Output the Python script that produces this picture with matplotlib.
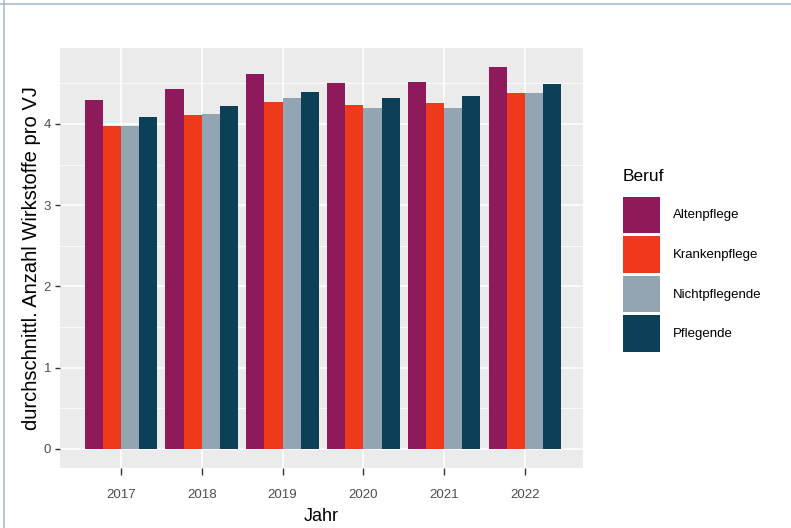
import numpy as np
import matplotlib
matplotlib.use('Agg')
import matplotlib.pyplot as plt
from matplotlib.patches import Patch
from matplotlib.lines import Line2D

plt.rcParams['font.family'] = ['Liberation Sans', 'DejaVu Sans']

jahre = ['2017', '2018', '2019', '2020', '2021', '2022']
berufe = ['Altenpflege', 'Krankenpflege', 'Nichtpflegende', 'Pflegende']
altenpflege = [4.30, 4.43, 4.61, 4.51, 4.52, 4.70]
krankenpflege = [3.97, 4.11, 4.27, 4.23, 4.26, 4.38]
nichtpflegende = [3.98, 4.12, 4.32, 4.20, 4.20, 4.38]
pflegende = [4.09, 4.22, 4.39, 4.32, 4.35, 4.49]
farben = ['#8E1A5C', '#EE3A1A', '#93A4B2', '#0C4058']

fig = plt.figure(figsize=(7.91, 5.28), dpi=100)
ax = fig.add_axes([60/791, 1-468/528, (583-60)/791, (468-48)/528])
ax.set_facecolor('#EBEBEB')

x = np.arange(len(jahre))
bw = 0.9 / 4
for i, werte in enumerate([altenpflege, krankenpflege, nichtpflegende, pflegende]):
    ax.bar(x - 0.45 + bw*(i+0.5), werte, width=bw, color=farben[i], zorder=3)

ax.set_xlim(-0.756, 5.72)
ax.set_ylim(-0.235, 4.935)
ax.set_xticks(x)
ax.set_xticklabels(jahre)
ax.set_yticks([0, 1, 2, 3, 4])
ax.set_yticks(np.arange(0.5, 4.6, 1), minor=True)
ax.grid(which='major', color='white', lw=1.1, zorder=0)
ax.grid(which='minor', axis='y', color='white', lw=0.55, zorder=0)
ax.tick_params(which='major', width=1, color='#333333',
               labelcolor='#4D4D4D', labelsize=9.5)
ax.tick_params(axis='x', length=5, pad=10)
ax.tick_params(axis='y', length=3.5, pad=3)
ax.tick_params(which='minor', length=0)
for s in ax.spines.values():
    s.set_visible(False)

ax.set_xlabel('Jahr', fontsize=13, labelpad=5)
ax.set_ylabel('durchschnittl. Anzahl Wirkstoffe pro VJ', fontsize=14.5, labelpad=2)

handles = [Patch(facecolor=c, edgecolor='none') for c in farben]
leg = fig.legend(handles, berufe, title='Beruf', loc='upper left',
                 bbox_to_anchor=(623/791, 1-169/528), frameon=False,
                 fontsize=9.5, title_fontsize=12.5, handlelength=2.8,
                 handleheight=3.9, labelspacing=0.22, handletextpad=0.95,
                 borderaxespad=0, borderpad=0)
leg._legend_box.align = 'left'
leg._legend_box.sep = 9

fig.add_artist(Line2D([0, 1], [1-3.5/528, 1-3.5/528], color='#A9BCCB', lw=1.2))
fig.add_artist(Line2D([3.5/791, 3.5/791], [0, 1], color='#A9BCCB', lw=1.2))

fig.savefig('out.png', dpi=100)
